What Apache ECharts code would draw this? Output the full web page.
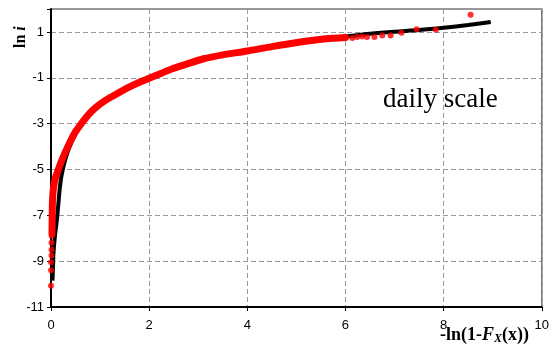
<!DOCTYPE html>
<html>
<head>
<meta charset="utf-8">
<script src="https://cdn.jsdelivr.net/npm/echarts@6/dist/echarts.min.js"></script>
<style>
  html, body { margin: 0; padding: 0; background: #fff; }
  #chart { width: 552px; height: 349px; }
</style>
</head>
<body>
<div id="chart"></div>
<script>
// fitted curve (black)
const fitLine = [
  [0.03, -9.85], [0.04, -9.3], [0.05, -8.65], [0.08, -7.9], [0.12, -7.2],
  [0.15, -6.5], [0.18, -5.8], [0.22, -5.2], [0.3, -4.5], [0.4, -3.9],
  [0.5, -3.45], [0.75, -2.65], [1.0, -2.15], [1.5, -1.5], [2.0, -1.0],
  [2.5, -0.6], [3.0, -0.25], [3.5, 0.0], [4.0, 0.17], [4.5, 0.36],
  [5.0, 0.52], [5.5, 0.66], [6.0, 0.8], [6.5, 0.92], [7.0, 1.01],
  [7.5, 1.08], [8.0, 1.18], [8.5, 1.3], [8.96, 1.43]
];

// dense part of the observations (red band)
const obsBand = [
  [0.02, -7.8], [0.025, -7.0], [0.03, -6.4], [0.045, -5.9], [0.07, -5.55],
  [0.1, -5.3], [0.15, -5.0], [0.22, -4.6], [0.3, -4.2], [0.4, -3.75],
  [0.5, -3.35], [0.6, -3.05], [0.76, -2.62], [0.9, -2.32], [1.1, -2.0],
  [1.3, -1.75], [1.44, -1.58], [1.6, -1.4], [1.78, -1.22], [2.0, -1.02],
  [2.25, -0.8], [2.46, -0.62], [2.73, -0.43], [3.11, -0.17], [3.5, 0.0],
  [4.0, 0.17], [4.5, 0.36], [5.15, 0.58], [5.6, 0.7], [6.0, 0.76]
];

// sparse observations at both ends
const obsDots = [
  [0.0, -10.07], [0.0, -9.4], [0.0, -9.05], [0.01, -8.75], [0.01, -8.5],
  [0.01, -8.2], [0.015, -7.9],
  [6.14, 0.73], [6.24, 0.78], [6.34, 0.8], [6.44, 0.78], [6.59, 0.78],
  [6.75, 0.84], [6.92, 0.84], [7.14, 0.96], [7.45, 1.12], [7.84, 1.10],
  [8.55, 1.75]
];

const xTicks = [0, 2, 4, 6, 8, 10];
const yTicks = [-11, -9, -7, -5, -3, -1, 1];

const chart = echarts.init(document.getElementById('chart'));

const gridDash = { color: '#999', type: [5, 3], width: 1 };

chart.setOption({
  animation: false,
  grid: {
    left: 51, right: 10, top: 9, bottom: 42,
    show: true, borderColor: '#777', borderWidth: 1.5
  },
  xAxis: {
    type: 'value',
    min: xTicks[0], max: xTicks[xTicks.length - 1], interval: 2,
    axisLine: { onZero: false, lineStyle: { color: '#000', width: 2 } },
    axisTick: { show: true, length: 4, lineStyle: { color: '#000' } },
    axisLabel: { color: '#000', fontFamily: 'Liberation Sans', fontSize: 13, margin: 12 },
    splitLine: { lineStyle: gridDash }
  },
  yAxis: {
    type: 'value',
    min: yTicks[0], max: 2, interval: 2,
    axisLine: { show: true, onZero: false, lineStyle: { color: '#000', width: 2 } },
    axisTick: { show: true, length: 4, lineStyle: { color: '#000' } },
    axisLabel: {
      color: '#000', fontFamily: 'Liberation Sans', fontSize: 13, margin: 7,
      formatter: (v) => (yTicks.includes(v) ? String(v) : '')
    },
    splitLine: { lineStyle: gridDash }
  },
  graphic: [
    {
      type: 'text', left: 383, top: 86,
      style: { text: 'daily scale', font: '27px "Liberation Serif"', fill: '#000' }
    },
    {
      type: 'text', left: 440, top: 326,
      style: {
        text: '{b|-ln(1-}{i|F}{s|X}{b|(x))}',
        rich: {
          b: { font: 'bold 18px "Liberation Serif"', fill: '#000' },
          i: { font: 'italic bold 18px "Liberation Serif"', fill: '#000' },
          s: { font: 'italic bold 12px "Liberation Serif"', fill: '#000', padding: [7, 0, 0, 0] }
        }
      }
    },
    {
      type: 'text', x: 13, y: 48, rotation: Math.PI / 2,
      style: {
        text: '{b|ln }{i|i}',
        rich: {
          b: { font: 'bold 16px "Liberation Serif"', fill: '#000' },
          i: { font: 'italic bold 16px "Liberation Serif"', fill: '#000' }
        }
      }
    }
  ],
  series: [
    {
      type: 'line', data: fitLine, showSymbol: false, smooth: 0.3,
      lineStyle: { color: '#000', width: 4 }, z: 2
    },
    {
      type: 'line', data: obsBand, showSymbol: false, smooth: 0.3,
      lineStyle: { color: '#ff0000', width: 7, cap: 'round' }, z: 3
    },
    {
      type: 'scatter', data: obsDots, symbol: 'circle', symbolSize: 6,
      itemStyle: { color: '#ff0000' }, z: 4
    }
  ]
});
</script>
</body>
</html>
